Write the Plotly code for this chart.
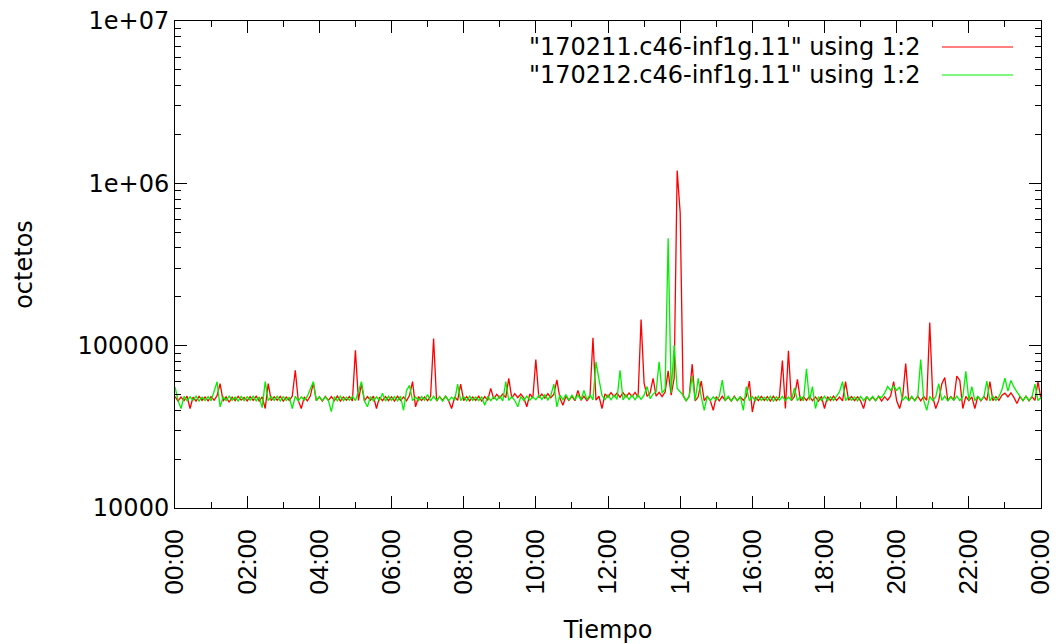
import pandas as pd
import plotly.graph_objects as go

# Sample times: every 5 minutes over one day (289 samples)
start_time = "2017-02-11 00:00"
end_time = "2017-02-12 00:00"
sample_count = 289

series_names = ['"170211.c46-inf1g.11" using 1:2', '"170212.c46-inf1g.11" using 1:2']
series_colors = ["#ff0000", "#00f000"]

# Values in thousands of octets, 12 per hour
red_k = [
    48.6, 45.5, 48.2, 45.9, 48.9, 41.0, 48.1, 45.6, 48.7, 46.0, 48.3, 45.7,
    48.5, 46.1, 49.2, 58.4, 45.6, 48.4, 44.8, 48.2, 45.8, 48.8, 46.2, 48.0,
    45.7, 48.6, 46.0, 48.9, 45.5, 48.3, 41.0, 58.4, 45.9, 48.5, 46.1, 48.7,
    45.6, 48.2, 46.0, 48.8, 70.6, 45.8, 41.0, 48.4, 45.7, 48.9, 59.0, 45.9,
    48.3, 45.6, 48.7, 46.0, 48.5, 45.8, 48.9, 45.5, 48.2, 46.1, 48.6, 45.7,
    93.8, 46.0, 58.0, 45.7, 48.5, 46.1, 48.8, 41.0, 48.2, 45.8, 48.6, 45.9,
    48.4, 45.6, 48.9, 46.0, 48.3, 45.7, 49.5, 60.0, 42.0, 48.6, 45.9, 48.2,
    45.8, 48.7, 110.7, 45.6, 48.5, 46.0, 48.9, 45.7, 41.0, 48.4, 46.1, 58.0,
    45.9, 48.6, 45.7, 48.3, 46.0, 48.8, 45.6, 48.5, 46.1, 54.5, 47.0, 50.2,
    47.6, 50.4, 47.9, 62.8, 47.5, 50.6, 47.8, 50.3, 47.7, 42.0, 50.5, 47.6,
    82.2, 47.9, 50.4, 47.5, 50.7, 47.8, 50.2, 61.5, 47.6, 43.0, 48.8, 46.0,
    48.7, 45.8, 53.0, 46.1, 48.9, 45.9, 48.4, 112.0, 46.2, 48.8, 41.0, 50.5,
    48.2, 51.3, 48.5, 51.0, 48.0, 51.4, 48.3, 51.1, 48.6, 51.5, 48.1, 145.0,
    59.0, 48.7, 51.2, 62.8, 48.9, 51.6, 48.6, 51.8, 70.0, 49.5, 63.0, 1200.0,
    660.0, 49.0, 45.9, 48.6, 76.9, 45.7, 48.4, 60.6, 45.8, 48.7, 46.0, 40.0,
    48.5, 45.7, 48.8, 46.0, 48.2, 45.6, 48.9, 45.9, 48.3, 46.1, 48.6, 60.5,
    39.0, 48.4, 45.8, 48.7, 46.0, 48.5, 45.6, 48.9, 45.9, 48.2, 81.0, 41.0,
    92.9, 45.8, 48.6, 62.0, 45.7, 48.4, 46.0, 48.8, 45.9, 48.3, 45.6, 48.7,
    41.0, 48.5, 45.8, 48.9, 46.0, 48.2, 45.7, 60.0, 46.1, 48.6, 45.9, 48.4,
    45.7, 41.0, 48.7, 46.0, 48.3, 45.8, 48.9, 45.6, 48.5, 46.2, 49.0, 60.0,
    45.8, 41.0, 48.6, 77.6, 45.9, 48.3, 46.0, 48.8, 45.7, 48.5, 46.1, 139.0,
    48.4, 41.0, 46.0, 58.0, 63.7, 45.8, 48.6, 46.1, 65.0, 61.0, 41.0, 48.7,
    45.9, 48.4, 41.0, 48.8, 45.7, 48.5, 46.0, 60.0, 45.8, 48.6, 46.1, 49.5,
    51.0, 48.3, 51.2, 48.0, 44.0, 48.5, 45.9, 48.8, 45.7, 48.4, 46.0, 60.0,
    46.8,
]

green_k = [
    55.7, 46.0, 41.0, 48.7, 45.8, 48.4, 46.1, 48.9, 45.6, 48.3, 45.9, 48.6,
    45.7, 53.0, 59.9, 42.0, 48.5, 45.8, 48.9, 46.0, 48.2, 45.6, 48.7, 45.9,
    48.4, 46.1, 48.8, 45.7, 48.3, 41.5, 60.0, 45.8, 48.6, 46.0, 48.9, 45.6,
    48.5, 45.9, 48.2, 41.0, 48.8, 45.7, 48.4, 46.1, 48.7, 54.0, 60.0, 45.8,
    48.6, 45.9, 48.3, 46.0, 39.2, 48.5, 45.7, 48.9, 45.8, 48.2, 46.1, 48.7,
    45.9, 52.0, 60.0, 45.8, 42.0, 48.6, 45.7, 48.4, 46.0, 51.0, 45.6, 48.8,
    46.0, 48.5, 45.7, 48.9, 40.0, 53.0, 57.0, 45.9, 48.3, 45.8, 48.6, 46.1,
    50.0, 45.7, 48.8, 46.0, 48.4, 45.6, 48.9, 45.9, 48.2, 46.1, 58.0, 45.8,
    48.6, 45.7, 48.9, 46.0, 48.3, 45.8, 48.5, 43.0, 48.7, 45.9, 48.4, 46.1,
    48.8, 45.7, 60.0, 46.0, 48.5, 45.9, 42.0, 48.6, 45.8, 48.9, 46.2, 48.4,
    46.4, 49.6, 46.6, 49.8, 46.3, 49.5, 58.0, 42.0, 49.7, 46.5, 49.9, 46.2,
    49.6, 46.6, 49.8, 46.4, 53.0, 46.5, 49.7, 46.3, 79.5, 62.0, 49.4, 46.5,
    49.8, 46.4, 49.6, 46.7, 70.6, 46.3, 49.9, 46.6, 49.5, 46.4, 49.8, 46.7,
    49.6, 56.0, 47.2, 50.3, 52.0, 79.5, 51.0, 54.2, 459.0, 51.2, 100.7, 54.5,
    51.5, 49.5, 45.8, 48.7, 65.0, 46.0, 63.0, 48.5, 40.0, 48.8, 45.9, 48.4,
    46.1, 48.6, 61.3, 45.8, 48.9, 45.7, 48.3, 46.0, 48.7, 40.0, 56.0, 45.9,
    48.5, 45.7, 48.8, 46.0, 48.2, 45.8, 48.9, 45.6, 48.4, 46.1, 48.7, 45.9,
    48.3, 46.0, 55.0, 45.8, 48.6, 45.7, 72.0, 46.1, 56.0, 41.0, 48.5, 45.9,
    48.8, 45.7, 48.4, 46.0, 48.9, 52.0, 60.0, 45.8, 48.5, 46.1, 48.3, 45.7,
    48.7, 45.9, 48.4, 46.1, 48.8, 45.8, 48.6, 48.0, 51.0, 56.0, 53.0, 56.5,
    53.0, 55.8, 46.0, 48.6, 45.8, 48.9, 45.7, 48.4, 82.2, 46.0, 40.0, 48.7,
    45.8, 48.5, 58.4, 46.0, 48.8, 45.7, 48.3, 46.1, 48.9, 45.9, 48.4, 69.5,
    46.0, 56.0, 45.8, 48.7, 46.1, 48.4, 60.5, 45.7, 48.8, 46.0, 48.5, 53.5,
    63.0, 52.5, 61.0, 55.5, 52.0, 48.4, 45.8, 48.7, 46.0, 48.5, 58.0, 45.9,
    48.2,
]

y_tick_vals = [1e4, 1e5, 1e6, 1e7]
y_tick_text = ["10000", "100000", "1e+06", "1e+07"]
y_minor_vals = [m * 10 ** e for e in (4, 5, 6) for m in range(2, 10)]

times = pd.date_range(start_time, periods=sample_count, freq="5min")

fig = go.Figure()
for vals, name, col in [(red_k, series_names[0], series_colors[0]),
                        (green_k, series_names[1], series_colors[1])]:
    fig.add_trace(go.Scatter(
        x=times, y=[v * 1000 for v in vals], mode="lines", name=name,
        line=dict(color=col, width=1.3), showlegend=False,
    ))

L, R, T, B = 175, 15, 21, 136
W, H = 1056, 644
pw, ph = W - L - R, H - T - B

def px_x(px):
    return (px - L) / pw

def px_y(py):
    return (H - B - py) / ph

# legend drawn gnuplot-style: text, then line sample to the right
for i, (name, col) in enumerate(zip(series_names, series_colors)):
    yy = px_y(47 + 28 * i)
    fig.add_annotation(xref="paper", yref="paper", x=px_x(922), y=yy,
                       text=name, showarrow=False, xanchor="right", yanchor="middle",
                       font=dict(family="DejaVu Sans", size=24, color="black"))
    fig.add_shape(type="line", xref="paper", yref="paper",
                  x0=px_x(942), x1=px_x(1013), y0=yy, y1=yy,
                  line=dict(color=col, width=1))

axis_common = dict(showline=True, linecolor="black", linewidth=1, mirror="allticks",
                   ticks="inside", tickcolor="black", tickwidth=1, ticklen=12,
                   showgrid=False, zeroline=False)

fig.update_xaxes(
    type="date", range=[start_time, end_time], tick0=start_time, dtick=7200000,
    tickformat="%H:%M", tickangle=-90, ticklabelstandoff=10,
    tickfont=dict(family="Liberation Sans", size=26, color="black"),
    minor=dict(ticks="inside", ticklen=6, tickcolor="black", dtick=3600000, showgrid=False),
    title=dict(text="Tiempo", font=dict(family="DejaVu Sans", size=24, color="black"), standoff=27),
    **axis_common,
)
fig.update_yaxes(
    type="log", range=[4, 7], tickmode="array", tickvals=y_tick_vals, ticktext=y_tick_text,
    tickfont=dict(family="DejaVu Sans", size=24, color="black"),
    minor=dict(ticks="inside", ticklen=6, tickcolor="black", tickmode="array",
               tickvals=y_minor_vals, showgrid=False),
    title=dict(text="octetos", font=dict(family="DejaVu Sans", size=24, color="black"), standoff=38),
    **axis_common,
)

fig.update_layout(
    width=W, height=H, margin=dict(l=L, r=R, t=T, b=B, autoexpand=False),
    paper_bgcolor="white", plot_bgcolor="white",
    font=dict(family="DejaVu Sans", size=24, color="black"),
)

fig.write_html("out.html")
